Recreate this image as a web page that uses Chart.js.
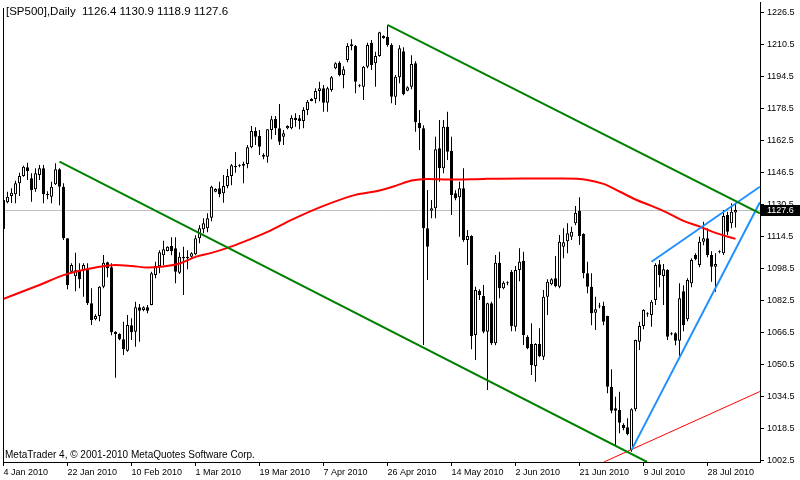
<!DOCTYPE html>
<html>
<head>
<meta charset="utf-8">
<script src="https://cdn.jsdelivr.net/npm/chart.js@4.4.1/dist/chart.umd.min.js"></script>
<style>
  html, body { margin: 0; padding: 0; background: #fff; }
  canvas { display: block; }
</style>
</head>
<body>
<canvas id="chart" width="800" height="480"></canvas>
<script>
// daily bars of [SP500], bar 0 = 4 Jan 2010 (the feed also has short Sunday bars)
const opens = [
  1118.2, 1131.5, 1134.7, 1135.5, 1141.0, 1144.6, 1149.0, 1143.5, 1138.0, 1145.2, 1148.5, 1135.1,
  1134.3, 1140.5, 1148.0, 1139.3, 1113.5, 1096.8, 1094.5, 1097.6, 1097.6, 1097.6, 1081.0, 1073.0,
  1074.6, 1089.3, 1101.5, 1099.0, 1066.8, 1065.6, 1063.0, 1057.3, 1070.0, 1066.8, 1079.0, 1077.6,
  1079.0, 1080.2, 1095.2, 1099.5, 1105.0, 1107.2, 1109.6, 1108.5, 1096.3, 1104.3, 1103.5, 1104.3,
  1105.5, 1113.5, 1118.0, 1118.5, 1123.8, 1136.8, 1138.5, 1136.0, 1139.6, 1144.6, 1149.7, 1149.8,
  1149.8, 1150.6, 1159.0, 1167.2, 1164.6, 1155.2, 1154.3, 1167.6, 1173.2, 1168.5, 1164.3, 1168.5,
  1168.5, 1173.8, 1173.5, 1172.2, 1177.6, 1182.2, 1183.2, 1187.2, 1188.5, 1181.3, 1187.6, 1198.5,
  1201.3, 1195.2, 1202.6, 1209.6, 1209.6, 1189.8, 1189.3, 1199.3, 1211.3, 1201.0, 1204.6, 1214.6,
  1214.3, 1210.2, 1184.3, 1194.0, 1207.0, 1187.3, 1189.3, 1201.0, 1171.3, 1168.5, 1118.5, 1127.3,
  1128.5, 1158.5, 1148.5, 1169.3, 1157.3, 1136.0, 1134.0, 1138.5, 1112.6, 1114.6, 1065.2, 1087.1,
  1084.6, 1066.8, 1081.0, 1061.0, 1101.3, 1088.5, 1091.3, 1096.8, 1069.3, 1097.6, 1102.3, 1064.3,
  1060.6, 1049.6, 1060.6, 1054.3, 1084.3, 1090.5, 1093.5, 1089.3, 1109.3, 1112.0, 1114.3, 1121.0,
  1127.3, 1115.6, 1096.0, 1089.3, 1076.3, 1079.6, 1079.6, 1074.6, 1039.3, 1028.5, 1027.6, 1020.2,
  1019.0, 1007.6, 1028.0, 1061.8, 1069.6, 1075.5, 1075.2, 1082.6, 1100.5, 1094.6, 1097.6, 1065.5,
  1066.0, 1062.3, 1087.0, 1073.0, 1091.0, 1105.2, 1100.2, 1111.8, 1113.5, 1105.2, 1099.3, 1106.5,
  1106.0, 1125.2, 1121.0, 1126.4
];
const highs = [
  1134.2, 1136.8, 1138.5, 1142.3, 1146.3, 1149.8, 1151.3, 1146.0, 1148.5, 1150.2, 1150.2, 1137.0,
  1141.8, 1151.0, 1148.5, 1141.0, 1113.5, 1101.0, 1106.3, 1101.0, 1101.0, 1101.0, 1088.5, 1075.5,
  1089.5, 1105.1, 1101.8, 1101.0, 1067.0, 1066.0, 1071.8, 1075.2, 1073.5, 1081.8, 1080.6, 1079.5,
  1080.1, 1096.8, 1101.8, 1107.5, 1112.3, 1109.5, 1114.0, 1114.0, 1106.5, 1109.3, 1107.5, 1106.5,
  1115.0, 1120.0, 1123.5, 1126.0, 1139.8, 1138.5, 1141.8, 1145.2, 1148.2, 1150.7, 1156.6, 1150.5,
  1151.8, 1160.2, 1169.6, 1169.0, 1167.6, 1156.0, 1168.0, 1174.6, 1174.6, 1180.6, 1167.6, 1170.0,
  1175.0, 1176.0, 1175.2, 1179.0, 1182.6, 1183.5, 1188.5, 1191.8, 1190.2, 1189.3, 1194.6, 1201.5,
  1202.0, 1199.5, 1211.0, 1213.0, 1210.2, 1190.5, 1199.6, 1211.3, 1212.6, 1206.8, 1216.8, 1215.0,
  1220.2, 1211.0, 1195.2, 1210.0, 1209.0, 1189.5, 1205.0, 1202.0, 1177.6, 1170.0, 1137.6, 1132.6,
  1164.3, 1172.6, 1172.6, 1176.8, 1164.3, 1137.5, 1141.8, 1148.5, 1117.6, 1115.0, 1089.3, 1088.0,
  1090.2, 1081.3, 1081.8, 1105.2, 1106.8, 1092.0, 1092.0, 1097.6, 1099.6, 1108.5, 1106.8, 1065.0,
  1071.0, 1061.0, 1068.5, 1087.6, 1093.0, 1093.5, 1104.6, 1115.2, 1118.5, 1121.0, 1119.3, 1129.6,
  1134.0, 1116.0, 1101.8, 1096.0, 1084.3, 1081.3, 1081.8, 1074.8, 1048.0, 1034.3, 1036.8, 1021.0,
  1023.5, 1028.5, 1062.8, 1071.8, 1078.0, 1076.5, 1082.6, 1101.0, 1102.6, 1100.6, 1098.0, 1066.5,
  1066.5, 1091.0, 1090.0, 1093.5, 1103.5, 1106.0, 1114.3, 1121.8, 1118.5, 1107.0, 1106.0, 1107.5,
  1127.6, 1126.8, 1131.0, 1130.9
];
const lows = [
  1117.2, 1131.0, 1131.2, 1131.0, 1134.6, 1144.3, 1142.6, 1131.8, 1136.8, 1142.6, 1131.0, 1133.0,
  1131.0, 1140.1, 1130.0, 1112.6, 1088.0, 1096.0, 1087.0, 1088.5, 1084.3, 1080.1, 1070.1, 1072.5,
  1072.0, 1088.5, 1094.0, 1065.0, 1043.8, 1062.5, 1055.2, 1056.8, 1062.6, 1059.3, 1061.8, 1077.0,
  1076.0, 1080.0, 1093.5, 1096.0, 1100.0, 1107.0, 1105.0, 1091.0, 1095.6, 1085.2, 1098.0, 1103.8,
  1105.0, 1111.0, 1116.0, 1116.5, 1122.0, 1136.5, 1134.0, 1131.3, 1138.5, 1140.0, 1146.3, 1149.0,
  1141.0, 1148.5, 1158.5, 1160.2, 1155.2, 1153.0, 1151.3, 1163.0, 1165.2, 1160.2, 1160.2, 1168.0,
  1168.0, 1169.3, 1168.0, 1168.5, 1175.2, 1182.0, 1181.0, 1182.0, 1176.8, 1176.8, 1186.8, 1198.0,
  1194.5, 1188.5, 1201.5, 1207.5, 1186.0, 1189.0, 1182.6, 1198.5, 1197.6, 1189.3, 1204.3, 1213.3,
  1209.3, 1181.0, 1180.2, 1191.0, 1185.0, 1187.0, 1188.0, 1166.8, 1157.6, 1060.2, 1092.6, 1123.5,
  1123.5, 1141.8, 1146.0, 1152.6, 1125.2, 1132.5, 1114.3, 1111.8, 1100.2, 1058.0, 1052.6, 1082.6,
  1066.0, 1037.6, 1060.2, 1060.0, 1083.5, 1088.0, 1090.0, 1067.0, 1067.0, 1092.0, 1060.2, 1058.0,
  1045.2, 1041.8, 1054.0, 1052.6, 1075.2, 1090.0, 1089.0, 1088.5, 1103.5, 1106.0, 1112.6, 1120.0,
  1110.2, 1093.5, 1086.0, 1070.0, 1067.6, 1078.5, 1070.0, 1036.0, 1026.0, 1010.2, 1016.0, 1017.5,
  1015.0, 1006.8, 1027.0, 1057.6, 1068.0, 1074.3, 1069.3, 1080.2, 1089.0, 1080.2, 1062.6, 1065.0,
  1060.0, 1054.3, 1067.0, 1072.0, 1089.0, 1102.5, 1099.0, 1110.0, 1104.0, 1091.8, 1086.8, 1106.0,
  1105.2, 1115.2, 1118.5, 1118.9
];
const closes = [
  1132.7, 1134.3, 1136.3, 1141.0, 1144.6, 1149.3, 1147.0, 1137.6, 1146.0, 1148.5, 1135.5, 1135.2,
  1139.3, 1148.0, 1139.3, 1113.5, 1090.2, 1100.2, 1097.5, 1093.0, 1100.1, 1081.0, 1072.6, 1074.6,
  1089.3, 1101.3, 1098.5, 1066.5, 1065.6, 1063.0, 1058.0, 1070.2, 1066.5, 1079.0, 1077.3, 1079.0,
  1077.3, 1096.0, 1099.6, 1106.5, 1108.0, 1109.3, 1107.2, 1096.8, 1104.3, 1103.5, 1104.3, 1106.0,
  1113.5, 1118.5, 1121.0, 1123.5, 1139.3, 1138.2, 1135.5, 1139.6, 1144.6, 1150.0, 1149.0, 1149.9,
  1150.6, 1159.0, 1167.2, 1164.3, 1159.3, 1154.3, 1168.0, 1173.0, 1168.5, 1161.8, 1166.0, 1169.6,
  1173.8, 1172.6, 1172.2, 1177.6, 1181.8, 1183.2, 1187.2, 1188.5, 1181.3, 1188.5, 1194.0, 1201.0,
  1195.2, 1198.0, 1209.6, 1210.5, 1191.8, 1189.8, 1199.3, 1210.2, 1200.2, 1204.6, 1216.5, 1213.5,
  1210.2, 1184.3, 1194.3, 1208.5, 1185.5, 1189.0, 1200.6, 1171.5, 1168.5, 1118.5, 1109.3, 1128.5,
  1158.0, 1148.5, 1169.3, 1156.8, 1135.2, 1133.5, 1138.5, 1112.6, 1114.6, 1064.6, 1087.6, 1085.2,
  1066.8, 1081.0, 1061.0, 1101.3, 1088.5, 1091.3, 1091.0, 1069.6, 1097.6, 1101.8, 1065.2, 1058.5,
  1050.2, 1060.6, 1054.6, 1084.3, 1091.8, 1093.0, 1089.5, 1111.8, 1111.5, 1116.0, 1116.8, 1126.3,
  1114.6, 1096.0, 1089.3, 1076.0, 1078.0, 1079.4, 1071.8, 1039.3, 1027.3, 1027.3, 1021.3, 1018.5,
  1015.6, 1028.0, 1062.6, 1069.6, 1077.6, 1075.5, 1081.8, 1100.2, 1095.2, 1098.0, 1064.3, 1065.5,
  1062.3, 1083.5, 1070.0, 1092.6, 1102.6, 1103.0, 1111.8, 1113.5, 1105.2, 1099.3, 1100.6, 1106.8,
  1124.6, 1116.8, 1126.8, 1127.6
];

// time axis: a label every 16 bars
const dateTicks = [0, 16, 32, 48, 64, 80, 96, 112, 128, 144, 160, 176];
const dateLabels = ['4 Jan 2010', '22 Jan 2010', '10 Feb 2010', '1 Mar 2010', '19 Mar 2010', '7 Apr 2010',
  '26 Apr 2010', '14 May 2010', '2 Jun 2010', '21 Jun 2010', '9 Jul 2010', '28 Jul 2010'];
const priceTicks = [1002.5, 1018.5, 1034.5, 1050.5, 1066.5, 1082.5, 1098.5, 1114.5,
  1130.5, 1146.5, 1162.5, 1178.5, 1194.5, 1210.5, 1226.5];

const maBars = [0, 8, 16, 24, 28, 32, 36, 40, 44, 48, 52, 56, 60, 66, 72, 80, 88, 94, 98, 102,
  106, 112, 120, 130, 140, 146, 150, 154, 158, 162, 166, 170, 174, 178, 183];
const maValues = [1083.2, 1089.4, 1095.7, 1099.3, 1100.2, 1099.7, 1098.9, 1099.4, 1100.9, 1104.2,
  1106.2, 1108.7, 1111.7, 1116.7, 1122.7, 1129.7, 1135.2, 1137.4, 1139.7, 1142.4, 1143.2, 1142.9,
  1143.2, 1143.4, 1143.4, 1142.7, 1140.7, 1136.9, 1132.9, 1129.7, 1126.2, 1122.2, 1119.4, 1116.2, 1113.2];

// trend lines, ends as [bar, price]
const greenUpperBars = [96, 189.1];
const greenUpperPrices = [1220.2, 1126.0];
const greenLowerBars = [14, 160.9];
const greenLowerPrices = [1151.8, 1001.65];
const blueLowerBars = [157, 189.1];
const blueLowerPrices = [1007.6, 1131.5];
const blueUpperBars = [162, 189.1];
const blueUpperPrices = [1101.8, 1139.3];
const redRayBars = [150.1, 189.1];
const redRayPrices = [1001.65, 1036.9];

const lastBar = closes.length - 1;
const headerText = '[SP500],Daily  ' + [opens, highs, lows, closes].map(a => a[lastBar].toFixed(1)).join(' ');
const copyrightText = 'MetaTrader 4, \u00a9 2001-2010 MetaQuotes Software Corp.';
const FONT = '"Liberation Sans", Arial, sans-serif';

function trendLine(bars, prices, color, width, order) {
  return {
    type: 'line',
    data: bars.map((b, k) => ({ x: b, y: prices[k] })),
    borderColor: color,
    borderWidth: width,
    pointRadius: 0,
    clip: 0,
    order: order
  };
}

// MT4 bits that are not axes: window edge, bid line, header, copyright, price box
const mtDecor = {
  id: 'mtDecor',
  beforeDatasetsDraw(chart) {
    const { ctx, chartArea: a, scales: { y } } = chart;
    const py = Math.round(y.getPixelForValue(closes[lastBar])) + 0.5;
    ctx.save();
    ctx.strokeStyle = '#c0c0c0';
    ctx.lineWidth = 1;
    ctx.beginPath();
    ctx.moveTo(a.left, py);
    ctx.lineTo(a.right, py);
    ctx.stroke();
    ctx.restore();
  },
  afterDraw(chart) {
    const { ctx, chartArea: a, scales: { y } } = chart;
    ctx.save();
    ctx.strokeStyle = '#000';
    ctx.lineWidth = 1;
    ctx.beginPath();
    ctx.moveTo(a.left + 0.5, 8);
    ctx.lineTo(a.left + 0.5, a.bottom);
    ctx.stroke();

    ctx.fillStyle = '#000';
    ctx.textBaseline = 'middle';
    ctx.font = '11.5px ' + FONT;
    ctx.fillText(headerText, 6, 12);
    ctx.font = '10px ' + FONT;
    ctx.fillText(copyrightText, 5, 455);

    const py = Math.round(y.getPixelForValue(closes[lastBar]));
    ctx.fillRect(a.right + 1, py - 5, chart.width - a.right - 1, 11);
    ctx.fillStyle = '#fff';
    ctx.font = '9px ' + FONT;
    ctx.fillText(closes[lastBar].toFixed(1), a.right + 7, py + 1);
    ctx.restore();
  }
};

const barIdx = closes.map((c, i) => i);

new Chart(document.getElementById('chart'), {
  type: 'bar',
  data: {
    datasets: [
      trendLine(greenUpperBars, greenUpperPrices, '#008000', 2, 0),
      trendLine(greenLowerBars, greenLowerPrices, '#008000', 2, 0),
      trendLine(blueLowerBars, blueLowerPrices, '#1e90ff', 2, 0),
      trendLine(blueUpperBars, blueUpperPrices, '#1e90ff', 2, 0),
      trendLine(redRayBars, redRayPrices, '#ff0000', 1, 0),
      {
        type: 'line',
        data: maBars.map((b, k) => ({ x: b, y: maValues[k] })),
        borderColor: '#ff0000',
        borderWidth: 2,
        pointRadius: 0,
        cubicInterpolationMode: 'monotone',
        clip: 0,
        order: 1
      },
      {
        // candle bodies
        data: barIdx.map(i => ({ x: i, y: [opens[i], closes[i]] })),
        backgroundColor: barIdx.map(i => closes[i] >= opens[i] ? '#ffffff' : '#000000'),
        borderColor: '#000000',
        borderWidth: 1,
        borderSkipped: false,
        inflateAmount: 0,
        grouped: false,
        barThickness: 3,
        maxBarThickness: 3,
        minBarLength: 1,
        order: 2
      },
      {
        // wicks
        data: barIdx.map(i => ({ x: i, y: [lows[i], highs[i]] })),
        backgroundColor: '#000000',
        borderWidth: 0,
        inflateAmount: 0,
        grouped: false,
        barThickness: 1,
        maxBarThickness: 1,
        order: 3
      }
    ]
  },
  options: {
    responsive: false,
    animation: false,
    devicePixelRatio: 1,
    layout: { padding: { left: 3, top: 2, right: 0, bottom: 0 } },
    plugins: { legend: { display: false }, tooltip: { enabled: false } },
    scales: {
      x: {
        type: 'linear',
        min: -0.125,
        max: 189.125,
        offset: false,
        grid: { drawOnChartArea: false, offset: false, color: '#000', tickLength: 4 },
        border: { color: '#000' },
        afterBuildTicks: s => { s.ticks = dateTicks.map(v => ({ value: v })); },
        afterFit: s => { s.height = 18; s.paddingLeft = 0; s.paddingRight = 0; },
        ticks: {
          autoSkip: false, maxRotation: 0, minRotation: 0, align: 'start', padding: 1,
          color: '#000', font: { family: FONT, size: 9 },
          callback: (v, k) => dateLabels[k]
        }
      },
      y: {
        position: 'right',
        min: 1001.65,
        max: 1231.65,
        grid: { drawOnChartArea: false, color: '#000', tickLength: 4 },
        border: { color: '#000' },
        afterBuildTicks: s => { s.ticks = priceTicks.map(v => ({ value: v })); },
        afterFit: s => { s.width = 40; s.paddingTop = 0; s.paddingBottom = 0; },
        ticks: {
          padding: 3, color: '#000', font: { family: FONT, size: 9 },
          callback: v => Number(v).toFixed(1)
        }
      }
    }
  },
  plugins: [mtDecor]
});
</script>
</body>
</html>
